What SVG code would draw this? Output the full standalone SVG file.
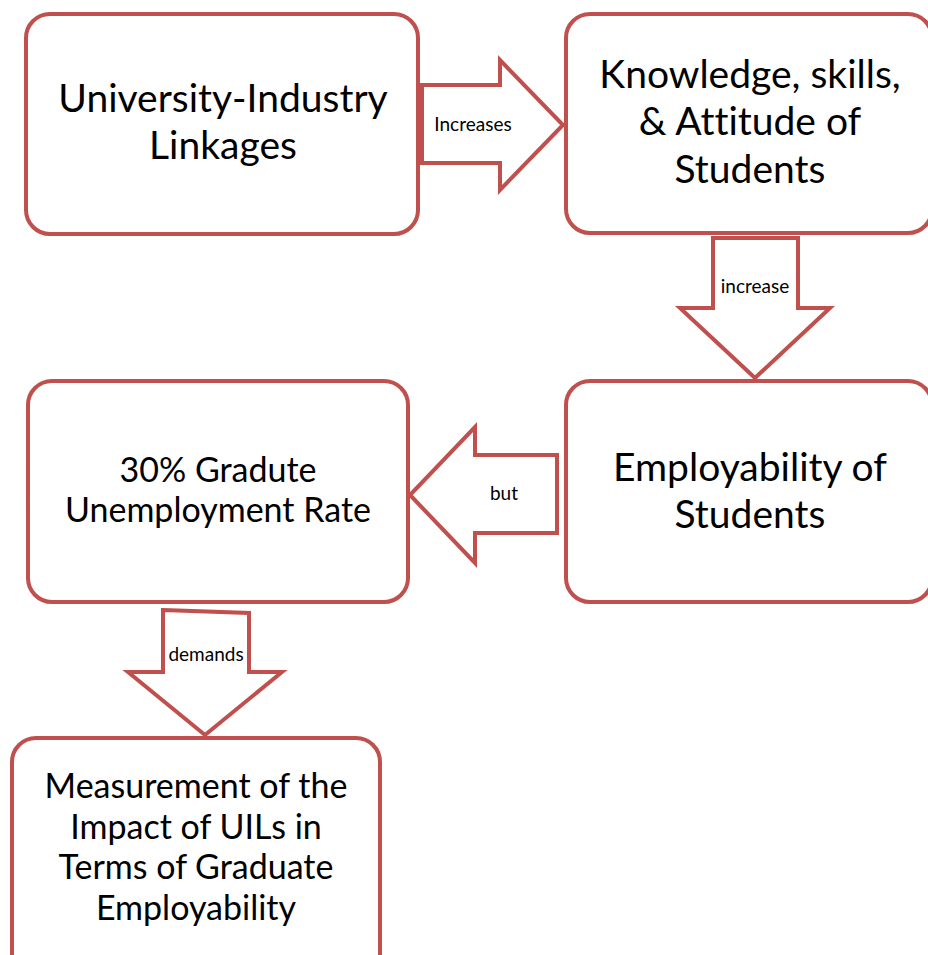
<svg xmlns="http://www.w3.org/2000/svg" width="928" height="955" viewBox="0 0 928 955">
  <style>
    .box { fill: #ffffff; stroke: #C0504D; stroke-width: 4; }
    .arrow { fill: #ffffff; stroke: #C0504D; stroke-width: 4; stroke-linejoin: miter; }
    text { font-family: Lato, "Noto Sans", sans-serif; fill: #000; text-anchor: middle; font-variant-ligatures: none; }
    .big { font-size: 39px; }
    .mid { font-size: 34px; }
    .lbl { font-size: 19px; }
  </style>
  <rect width="928" height="955" fill="#ffffff"/>

  <!-- connectors: block arrows with labels -->
  <g id="connectors">
    <g id="c-increases">
      <polygon class="arrow" points="422,85 500,85 500,60 563,125 500,190 500,163 422,163"/>
      <text class="lbl" x="473" y="131">Increases</text>
    </g>
    <g id="c-increase">
      <polygon class="arrow" points="713,238 798,238 798,308 830,308 755,378 680,308 713,308"/>
      <text class="lbl" x="755" y="293">increase</text>
    </g>
    <g id="c-but">
      <polygon class="arrow" points="557,455 557,533 475,533 475,563 410,495 475,427 475,455"/>
      <text class="lbl" x="504" y="500">but</text>
    </g>
    <g id="c-demands">
      <polygon class="arrow" points="163,610 249,613 249,672 282,672 205,735 128,672 163,672"/>
      <text class="lbl" x="206" y="661">demands</text>
    </g>
  </g>

  <g id="node-uil">
    <rect class="box" x="26" y="14" width="392" height="220" rx="24"/>
    <text class="big" x="223" y="112">University-Industry</text>
    <text class="big" x="223" y="159">Linkages</text>
  </g>

  <g id="node-ksa">
    <rect class="box" x="566" y="14" width="366" height="219" rx="24"/>
    <text class="big" x="750" y="88">Knowledge, skills,</text>
    <text class="big" x="750" y="135">&amp; Attitude of</text>
    <text class="big" x="750" y="183">Students</text>
  </g>

  <g id="node-employability">
    <rect class="box" x="566" y="381" width="366" height="221" rx="24"/>
    <text class="big" x="750" y="481">Employability of</text>
    <text class="big" x="750" y="528">Students</text>
  </g>

  <g id="node-unemployment">
    <rect class="box" x="28" y="381" width="380" height="221" rx="24"/>
    <text class="mid" x="218" y="482">30% Gradute</text>
    <text class="mid" x="218" y="522">Unemployment Rate</text>
  </g>

  <g id="node-measurement">
    <rect class="box" x="12" y="738" width="368" height="240" rx="24"/>
    <text class="mid" x="196" y="798">Measurement of the</text>
    <text class="mid" x="196" y="839">Impact of UILs in</text>
    <text class="mid" x="196" y="879">Terms of Graduate</text>
    <text class="mid" x="196" y="920">Employability</text>
  </g>
</svg>
